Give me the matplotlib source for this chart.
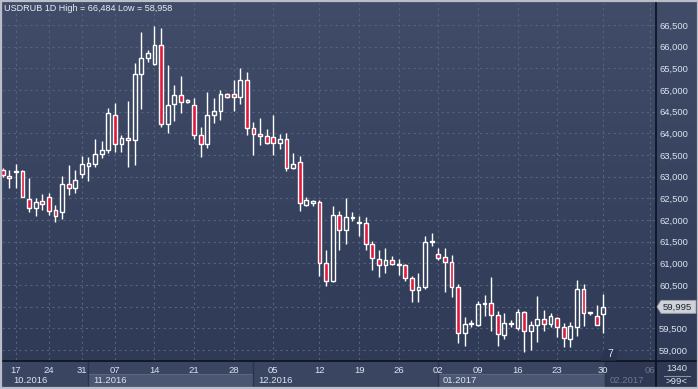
import matplotlib
matplotlib.use("Agg")
import matplotlib.pyplot as plt
import matplotlib.transforms as mtransforms
from matplotlib.colors import LinearSegmentedColormap
from matplotlib.patches import Rectangle, Polygon
import numpy as np

# USDRUB daily candles, 17.10.2016 .. 30.01.2017
opens = [63154, 63008, 63100, 63131, 62485, 62269, 62438, 62523, 62231, 62177,
         62823, 62731, 63054, 63254, 63285, 63515, 63608, 64423, 63746, 63885,
         63838, 65362, 65731, 65592, 66038, 64208, 64669, 64885, 64731, 64654,
         63962, 63746, 64423, 64508, 64908, 64908, 64831, 65231, 64115, 63985,
         63938, 63915, 63785, 63862, 63208, 63331, 62346, 62400, 62423, 61008,
         60592, 62115, 61769, 62046, 61931, 61931, 61446, 61100, 60962, 61085,
         60962, 60962, 60662, 60385, 60446, 61500, 61215, 61146, 61031, 60462,
         59392, 59600, 59577, 60062, 60085, 59815, 59346, 59600, 59508, 59869,
         59438, 59577, 59715, 59600, 59738, 59523, 59254, 59538, 60408, 59846,
         59792, 59831]
highs = [63192, 63154, 63292, 63154, 62969, 62515, 62600, 62615, 62346, 63015,
         63269, 63154, 63485, 63462, 63869, 63823, 64577, 64692, 63962, 64746,
         65615, 66346, 65923, 66484, 66423, 65577, 65115, 65323, 64792, 64823,
         64146, 64946, 64823, 65000, 64938, 65231, 65515, 65423, 64269, 64362,
         64100, 64423, 63985, 64015, 63554, 63485, 62538, 62462, 62462, 61315,
         62331, 62215, 62508, 62192, 62100, 62077, 61523, 61315, 61354, 61169,
         61100, 60985, 60715, 60777, 61638, 61700, 61346, 61346, 61200, 60523,
         59769, 59700, 60123, 60277, 60692, 59908, 59846, 59700, 59946, 59908,
         59677, 60254, 59931, 59846, 59769, 59615, 59654, 60623, 60523, 59869,
         60046, 60292]
lows = [63000, 62746, 62746, 62520, 62192, 62100, 62231, 62115, 61946, 62015,
        62577, 62615, 62962, 62908, 63231, 63423, 63538, 63562, 63577, 63231,
        63269, 64562, 65654, 65580, 64154, 64000, 64285, 64477, 64708, 63869,
        63462, 63669, 64231, 64308, 64808, 64515, 64677, 63962, 63500, 63731,
        63754, 63500, 63631, 63131, 63177, 62208, 62330, 62323, 60715, 60469,
        60562, 61315, 61438, 61985, 61638, 61308, 60854, 60677, 60769, 60969,
        60738, 60585, 60100, 60100, 60400, 61408, 61085, 60331, 60215, 59154,
        59092, 59523, 59554, 59792, 59446, 59085, 59246, 59523, 59462, 58958,
        59008, 59177, 59431, 59523, 59292, 59062, 59062, 59331, 59546, 59808,
        59570, 59385]
closes = [63038, 62962, 63138, 62538, 62269, 62423, 62377, 62215, 62100, 62823,
          62731, 62923, 63285, 63315, 63515, 63615, 64462, 63746, 63885, 63838,
          65362, 65731, 65846, 66038, 64208, 64654, 64885, 64731, 64762, 63962,
          63746, 64423, 64515, 64900, 64831, 64831, 65231, 64115, 63977, 63931,
          63785, 63785, 63862, 63208, 63285, 62400, 62462, 62431, 61000, 60592,
          62115, 61769, 62069, 62069, 61946, 61446, 61123, 60962, 61085, 60985,
          60985, 60662, 60385, 60462, 61492, 61523, 61123, 61031, 60446, 59392,
          59600, 59623, 60062, 60085, 59808, 59369, 59631, 59623, 59869, 59438,
          59577, 59715, 59600, 59792, 59523, 59277, 59554, 60408, 59854, 59869,
          59577, 59995]

day_ticks = [2, 7, 12, 17, 23, 29, 35, 41, 48, 54, 60, 66, 72, 78, 84, 91, 98]
day_labels = ["17", "24", "31", "07", "14", "21", "28", "05", "12", "19", "26",
              "02", "09", "16", "23", "30", "06"]
month_starts = [-1, 13, 38, 66, 91.3]
month_labels = ["10.2016", "11.2016", "12.2016", "01.2017", "02.2017"]
price_ticks = list(range(59000, 67000, 500))

W, H = 698, 389
txt = "#dde4f0"
red = "#e2173c"
font = "Liberation Sans"

fig = plt.figure(figsize=(W / 100, H / 100), dpi=100)
fig.patch.set_facecolor("#3a4562")

# background gradient over the whole picture
bg = fig.add_axes([0, 0, 1, 1], zorder=0)
bg.set_axis_off()
cmap = LinearSegmentedColormap.from_list("bg", ["#404c68", "#2d3955"])
bg.imshow(np.linspace(0, 1, 256).reshape(-1, 1), cmap=cmap, aspect="auto",
          extent=[0, W, H, 0])
bg.set_xlim(0, W)
bg.set_ylim(H, 0)

ax = fig.add_axes([2 / W, (H - 360) / H, 653 / W, 357 / H], zorder=2)
ax.patch.set_alpha(0)
ax.set_xlim(-0.1, 98.83)
ax.set_ylim(58768, 67008)

x = np.arange(len(opens))
o = np.array(opens, float)
c = np.array(closes, float)
hi = np.array(highs, float)
lo = np.array(lows, float)
top = np.maximum(o, c)
bot = np.minimum(o, c)
up = c >= o

ax.vlines(x, top, hi, color="white", lw=1.0, zorder=3)
ax.vlines(x, lo, bot, color="white", lw=1.0, zorder=3)
hgt = np.maximum(top - bot, 12)
ax.bar(x, hgt, bottom=bot, width=0.58,
       color=[(0, 0, 0, 0) if u else red for u in up],
       edgecolor="white", linewidth=1.0, zorder=4)

last = closes[-1]

ax.set_yticks(price_ticks)
# the 60,000 label sits under the last-price marker
ax.set_yticklabels(["" if abs(p - last) < 250 else f"{p:,}" for p in price_ticks])
ax.yaxis.tick_right()
ax.set_xticks(day_ticks)
ax.set_xticklabels(day_labels)
ax.tick_params(length=0, colors=txt, labelsize=6.8)
ax.tick_params(axis="y", pad=3)
ax.tick_params(axis="x", pad=4)
for lab in ax.get_xticklabels() + ax.get_yticklabels():
    lab.set_fontfamily(font)
ax.get_xticklabels()[-1].set_color("#6c7791")
ax.grid(True, color="#56637e", lw=0.8, ls=(0, (2, 3)))
for s in ax.spines.values():
    s.set_visible(False)

# bottom date panel
bg.add_patch(Rectangle((0, 360), W, H - 360, color="#3a4561", zorder=1))
tr = mtransforms.blended_transform_factory(ax.transData, bg.transData)
bands = [(month_starts[1], month_starts[2]), (month_starts[3], month_starts[4])]
for a, b in bands:
    bg.add_patch(Rectangle((a, 374), b - a, 13, transform=tr,
                           facecolor="#4b5672", edgecolor="#5b6681", lw=0.8,
                           zorder=2))
bg.add_patch(Rectangle((month_starts[4], 360), 110, 29, transform=tr,
                       color="#2c3650", alpha=0.85, zorder=6))
for m in month_starts[1:]:
    bg.plot([m, m], [361, 388], transform=tr, color="#2a3450", lw=1, zorder=3)
for m, lab in zip(month_starts, month_labels):
    xm = max(m, 0.9) + 0.7
    col = "#6c7791" if lab == "02.2017" else txt
    bg.text(xm, 380.5, lab, transform=tr, color=col, fontsize=6.8,
            family=font, va="center", ha="left", zorder=7)

# frame lines
bg.plot([0, W], [360.5, 360.5], color="#0d1120", lw=1.2, zorder=8)
bg.plot([655.5, 655.5], [0, H], color="#0d1120", lw=1.2, zorder=8)
bg.add_patch(Rectangle((0.5, 0.5), W - 1, H - 1.5, fill=False,
                       edgecolor="#b9bec8", lw=1.6, zorder=9))

# corner box
bg.text(677, 368.5, "1340", color=txt, fontsize=6.8, family=font,
        ha="center", va="center", zorder=8)
bg.plot([664, 690], [375.5, 375.5], color="#8a93a8", lw=0.8, zorder=8)
bg.text(677, 381.5, ">99<", color=txt, fontsize=6.8, family=font,
        ha="center", va="center", zorder=8)

# last price marker
ov = fig.add_axes([0, 0, 1, 1], zorder=5)
ov.set_axis_off()
ov.set_xlim(0, W)
ov.set_ylim(H, 0)
ov.patch.set_alpha(0)
ypix = H - ax.transData.transform((0, last))[1]
ov.add_patch(Polygon([[657, ypix], [661, ypix - 6.5], [696, ypix - 6.5],
                      [696, ypix + 6.5], [661, ypix + 6.5]],
                     closed=True, facecolor="#cfd2d8", edgecolor="#9aa0ab",
                     lw=0.6))
ov.text(663, ypix, f"{last:,}", color="#1c2230", fontsize=6.8, family=font,
        va="center", ha="left")

# small counter
ov.add_patch(Polygon([[601, 360], [604, 350], [616, 350], [616, 360]],
                     closed=True, color="#2a3450", alpha=0.8))
ov.text(610, 354, "7", color=txt, fontsize=7.5, family=font,
        va="center", ha="center")

fig.text(4 / W, 1 - 8.5 / H, "USDRUB 1D High = 66,484 Low = 58,958",
         color="#e8edf6", fontsize=6.5, family=font, va="center", ha="left",
         zorder=10)

fig.savefig("out.png", dpi=100, facecolor=fig.get_facecolor())
